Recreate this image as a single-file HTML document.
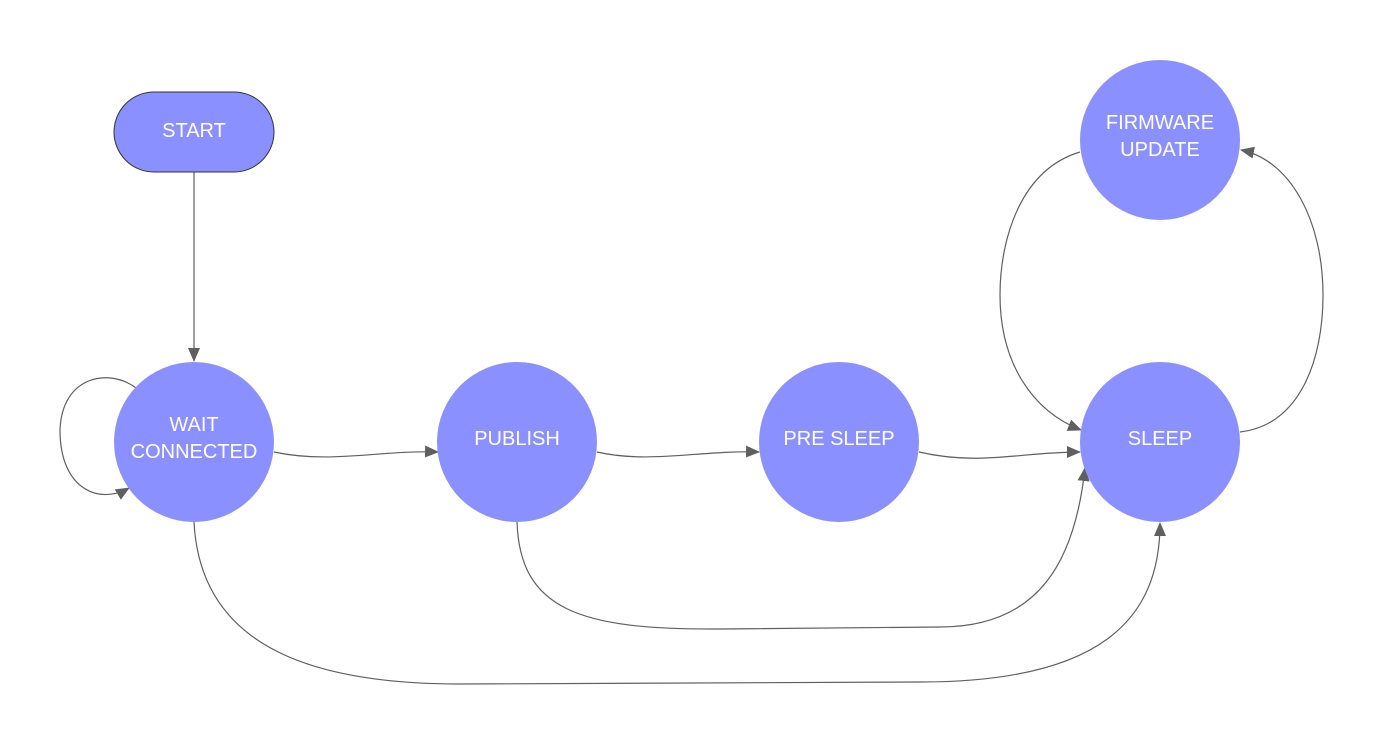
<!DOCTYPE html>
<html><head><style>body{margin:0;background:#fff}svg{display:block}text{font-family:"Liberation Sans",sans-serif;font-size:20px;fill:#fff;text-anchor:middle}</style></head>
<body>
<svg width="1385" height="754" viewBox="0 0 1385 754">
<defs><marker id="a" markerWidth="14" markerHeight="12" refX="13" refY="6" orient="auto" markerUnits="userSpaceOnUse"><path d="M0,0L14,6L0,12z" fill="#5f5f5f"/></marker></defs>
<g fill="none" stroke="#5f5f5f" stroke-width="1.2" marker-end="url(#a)">
<path d="M194,172L194,361"/>
<path d="M136,388C110,368 62,375 60,430C60,490 100,505 129,488"/>
<path d="M274,452C330,464 380,450 438,452"/>
<path d="M597,452C650,464 700,450 759,452"/>
<path d="M919,452C980,466 1020,452 1080,452"/>
<path d="M517,522C520,610 580,630 720,629L940,627C1040,627 1075,560 1085,468"/>
<path d="M194,522C200,640 300,684 460,684L920,682C1100,682 1160,620 1160,523"/>
<path d="M1240,432C1300,425 1323,360 1323,295C1323,220 1290,160 1241,150"/>
<path d="M1080,152C1020,170 1000,240 1000,295C1000,360 1030,410 1081,430"/>
</g>
<rect x="114" y="92" width="160" height="80" rx="40" fill="#8a90ff" stroke="#333" stroke-width="1"/>
<text x="194" y="137">START</text>
<circle cx="194" cy="442" r="80" fill="#8a90ff"/>
<text x="194" y="431">WAIT</text><text x="194" y="458">CONNECTED</text>
<circle cx="517" cy="442" r="80" fill="#8a90ff"/>
<text x="517" y="445">PUBLISH</text>
<circle cx="839" cy="442" r="80" fill="#8a90ff"/>
<text x="839" y="445">PRE SLEEP</text>
<circle cx="1160" cy="442" r="80" fill="#8a90ff"/>
<text x="1160" y="445">SLEEP</text>
<circle cx="1160" cy="140" r="80" fill="#8a90ff"/>
<text x="1160" y="129">FIRMWARE</text><text x="1160" y="156">UPDATE</text>
</svg>
</body></html>
